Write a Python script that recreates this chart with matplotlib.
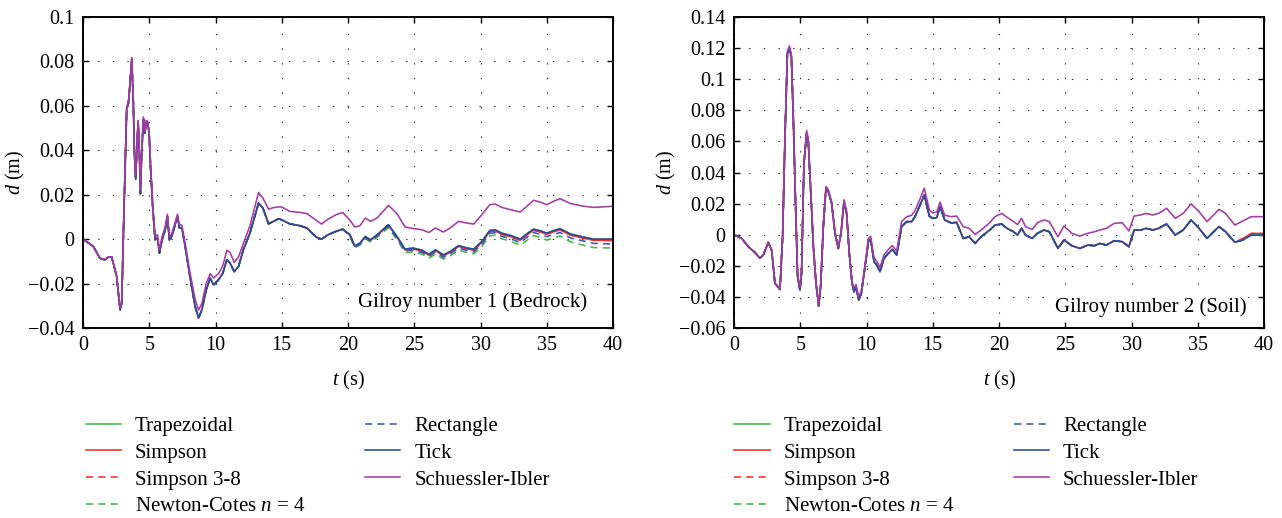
import matplotlib
matplotlib.use("Agg")
import matplotlib.pyplot as plt
from matplotlib.ticker import FuncFormatter, MultipleLocator

plt.rcParams["font.family"] = "Liberation Serif"
plt.rcParams["mathtext.fontset"] = "custom"
plt.rcParams["mathtext.rm"] = "Liberation Serif"
plt.rcParams["mathtext.it"] = "Liberation Serif:italic"

# Gilroy number 1 (Bedrock)
t1 = [0, 0.78, 1.28, 1.66, 1.91, 2.17, 2.54, 2.8, 2.92, 3.1, 3.3, 3.43, 3.55, 3.68, 3.8, 3.88,
      3.98, 4.05, 4.16, 4.26, 4.33, 4.43, 4.56, 4.68, 4.76, 4.89, 4.99, 5.11, 5.26, 5.44, 5.62,
      5.77, 5.94, 6.2, 6.37, 6.52, 6.7, 6.95, 7.13, 7.28, 7.46, 7.71, 8.09, 8.46, 8.72, 8.97,
      9.3, 9.6, 9.85, 10.23, 10.55, 10.86, 11.1, 11.41, 11.74, 12.1, 12.6, 13.25, 13.58, 14.0,
      14.38, 14.76, 15.0, 15.6, 16.4, 16.9, 17.6, 18.0, 18.5, 19.1, 19.6,
      20.15, 20.5, 20.9, 21.3, 21.7, 22.2, 23.05, 23.7, 24.3, 24.9, 25.6, 26.1, 26.6, 27.2,
      27.7, 28.35, 29.0, 29.5, 30.1, 30.7, 31.1, 31.6, 32.25, 33.0, 33.5, 34.0, 34.5, 35.0,
      35.5, 36.0, 36.8, 37.8, 38.55, 40.0]
d1_early = [0, -0.0033, -0.0086, -0.0093, -0.0081, -0.0081, -0.0168, -0.0318, -0.029, 0.0147,
            0.059, 0.0612, 0.070, 0.081, 0.061, 0.0387, 0.027, 0.0387, 0.053, 0.0387, 0.0204,
            0.0387, 0.054, 0.0477, 0.052, 0.052, 0.0477, 0.031, 0.0147, -0.0003, 0.0005, -0.0063,
            -0.001, 0.0042, 0.0102, -0.0003, 0.0012, 0.0065, 0.0102, 0.005, 0.005, -0.0033,
            -0.0176, -0.0303, -0.0355, -0.0318, -0.0228, -0.0176, -0.0206, -0.0183, -0.0153,
            -0.0093, -0.0108, -0.0146, -0.0123, -0.0048, 0.0027, 0.0162, 0.014, 0.0069, 0.008,
            0.0092, 0.0087, 0.0069, 0.006, 0.005, 0.0009, 0.0, 0.002, 0.0035, 0.0045]
d1_tick = d1_early + [0.002, -0.003, -0.0018, 0.0012, -0.0003, 0.002, 0.0065, 0.0012, -0.0045,
                      -0.004, -0.005, -0.0068, -0.0048, -0.0071, -0.0056, -0.0029, -0.004,
                      -0.0045, -0.001, 0.0039, 0.0042, 0.0027, 0.0017, 0.0, 0.0024, 0.0045,
                      0.0038, 0.0027, 0.0038, 0.0047, 0.0023, 0.0009, 0.0, 0.0]
d1_trap = d1_tick
d1_simpson = d1_early + [0.0018, -0.0032, -0.002, 0.001, -0.0006, 0.0017, 0.0062, 0.0009,
                         -0.0049, -0.0044, -0.0054, -0.0072, -0.0052, -0.0075, -0.006, -0.0033,
                         -0.0044, -0.005, -0.0015, 0.0034, 0.0037, 0.0022, 0.0012, -0.0005,
                         0.0019, 0.004, 0.0033, 0.0022, 0.0033, 0.0042, 0.0018, 0.0004,
                         -0.0005, -0.0006]
d1_simpson38 = d1_simpson
d1_newton = d1_early + [0.0012, -0.0039, -0.0027, 0.0002, -0.0014, 0.0008, 0.0052, -0.0002,
                        -0.0061, -0.0057, -0.0068, -0.0086, -0.0067, -0.009, -0.0076, -0.0049,
                        -0.0061, -0.0066, -0.0033, 0.0015, 0.0018, 0.0002, -0.0009, -0.0028,
                        -0.0005, 0.0016, 0.0008, -0.0004, 0.0006, 0.0014, -0.0012, -0.0028,
                        -0.0038, -0.004]
d1_rect = d1_early + [0.0016, -0.0035, -0.0023, 0.0007, -0.0009, 0.0014, 0.0058, 0.0005,
                      -0.0053, -0.0049, -0.006, -0.0078, -0.0058, -0.0082, -0.0067, -0.004,
                      -0.0052, -0.0057, -0.0023, 0.0026, 0.0029, 0.0013, 0.0002, -0.0015,
                      0.0008, 0.003, 0.0022, 0.0011, 0.0021, 0.003, 0.0005, -0.0009, -0.0019,
                      -0.0022]
d1_si = [0, -0.0033, -0.0086, -0.0093, -0.0081, -0.0081, -0.0165, -0.031, -0.0285, 0.015,
         0.0595, 0.062, 0.071, 0.0818, 0.062, 0.039, 0.029, 0.039, 0.0535, 0.039, 0.022,
         0.039, 0.055, 0.0485, 0.0535, 0.053, 0.0485, 0.032, 0.016, 0.001, 0.002, -0.005,
         0.0005, 0.0055, 0.0112, 0.001, 0.0025, 0.0075, 0.0112, 0.0065, 0.0063, -0.0018,
         -0.0155, -0.027, -0.0319, -0.029, -0.020, -0.0155, -0.0175, -0.0155, -0.012,
         -0.005, -0.006, -0.0105, -0.008, -0.002, 0.006, 0.021, 0.0185, 0.0135, 0.0142,
         0.0145, 0.0145, 0.0125, 0.012, 0.0115, 0.0085, 0.0068, 0.009, 0.011, 0.012,
         0.0085, 0.0055, 0.006, 0.0095, 0.008, 0.0095, 0.0152, 0.0115, 0.0055, 0.0048,
         0.0042, 0.003, 0.005, 0.0032, 0.005, 0.008, 0.0072, 0.0068, 0.011, 0.0155, 0.0158,
         0.0143, 0.0133, 0.0122, 0.0148, 0.0175, 0.0167, 0.0155, 0.017, 0.0182, 0.016,
         0.0148, 0.0143, 0.0148]

# Gilroy number 2 (Soil)
t2 = [0, 0.58, 1.08, 1.58, 1.96, 2.21, 2.59, 2.84, 3.09, 3.3, 3.47, 3.67, 3.85, 4.03, 4.18,
      4.33, 4.48, 4.65, 4.8, 4.98, 5.1, 5.28, 5.48, 5.6, 5.81, 5.99, 6.19, 6.39, 6.54, 6.74,
      6.94, 7.12, 7.37, 7.62, 7.87, 8.08, 8.3, 8.5, 8.7, 8.91, 9.06, 9.21, 9.41, 9.61, 9.89,
      10.14, 10.31, 10.57, 10.77, 11.02, 11.32, 11.65, 11.95, 12.28, 12.65, 13.03, 13.41,
      13.66, 14.04, 14.36, 14.74, 15.0, 15.3, 15.55, 15.9, 16.4, 16.8, 17.3, 17.75, 18.2,
      18.65, 19.3, 19.7, 20.2, 20.6, 21.1, 21.4, 21.7, 22.0, 22.5, 22.9, 23.4, 23.8, 24.45,
      24.9, 25.5, 26.1, 26.7, 27.2, 27.6, 28.1, 28.7, 29.3, 29.8, 30.2, 30.7, 31.1, 31.6,
      32.05, 32.65, 33.3, 33.9, 34.5, 35.1, 35.7, 36.2, 36.6, 37.1, 37.8, 38.4, 39.05, 40.0]
d2_tick = [0, -0.0024, -0.0077, -0.0114, -0.0152, -0.013, -0.0051, -0.0099, -0.0313, -0.0334,
           -0.0352, -0.0013, 0.063, 0.1166, 0.1198, 0.1145, 0.0737, 0.018, -0.027, -0.0356,
           -0.0249, 0.0459, 0.0652, 0.0609, 0.0244, -0.0077, -0.0313, -0.0459, -0.0334, 0.0051,
           0.0298, 0.0277, 0.0202, 0.0009, -0.0088, 0.0009, 0.0212, 0.0137, -0.012, -0.0313,
           -0.0367, -0.0334, -0.042, -0.0377, -0.0206, -0.0045, -0.003, -0.0174, -0.0195,
           -0.0238, -0.0152, -0.012, -0.0094, -0.013, 0.0051, 0.0084, 0.0084, 0.0116, 0.019,
           0.0255, 0.012, 0.0105, 0.011, 0.018, 0.0095, 0.0075, 0.008, -0.0024, -0.0013,
           -0.0056, -0.0013, 0.003, 0.0062, 0.0069, 0.0041, 0.0019, -0.0002, 0.0041, -0.0002,
           -0.0024, 0.0009, 0.003, 0.0019, -0.0088, -0.0034, -0.0071, -0.0088, -0.0067,
           -0.0071, -0.0056, -0.0067, -0.0039, -0.0045, -0.0077, 0.003, 0.003, 0.0041, 0.003,
           0.0041, 0.0069, -0.0002, 0.003, 0.0095, 0.0041, -0.0024, 0.0019, 0.0052, 0.0019,
           -0.0049, -0.0034, -0.0002, -0.0002]
d2_trap = d2_tick
d2_simpson = d2_tick[:-3] + [-0.0025, 0.0008, 0.0008]
d2_simpson38 = d2_simpson
d2_newton = d2_tick
d2_rect = d2_tick
d2_si = [0, -0.0024, -0.0077, -0.0114, -0.015, -0.0128, -0.0048, -0.0097, -0.031, -0.033,
         -0.0348, 0.0, 0.064, 0.118, 0.1215, 0.116, 0.076, 0.021, -0.025, -0.034, -0.023,
         0.047, 0.067, 0.062, 0.026, -0.006, -0.030, -0.0455, -0.032, 0.006, 0.031, 0.029,
         0.021, 0.002, -0.0078, 0.002, 0.0225, 0.015, -0.011, -0.030, -0.0345, -0.032, -0.040,
         -0.036, -0.019, -0.0025, -0.001, -0.015, -0.017, -0.021, -0.013, -0.0095, -0.007,
         -0.0105, 0.0085, 0.0115, 0.0125, 0.0155, 0.023, 0.0299, 0.016, 0.014, 0.0145, 0.021,
         0.0125, 0.0116, 0.012, 0.0052, 0.0041, 0.0002, 0.003, 0.0077, 0.0116, 0.0137, 0.0112,
         0.0084, 0.0065, 0.0105, 0.0052, 0.0034, 0.0077, 0.0095, 0.0084, -0.0013, 0.0056,
         0.0009, -0.0009, 0.0009, 0.0019, 0.003, 0.0041, 0.0073, 0.0077, 0.0024, 0.012, 0.0127,
         0.0137, 0.0127, 0.0137, 0.017, 0.0105, 0.0137, 0.0198, 0.0148, 0.0084, 0.0127, 0.0163,
         0.0137, 0.0062, 0.0088, 0.0116, 0.0116]

labels = ["Trapezoidal", "Simpson", "Simpson 3-8", "Newton-Cotes $n$ = 4",
          "Rectangle", "Tick", "Schuessler-Ibler"]
colors = ["#45b449", "#f42a2a", "#f42a2a", "#45b449", "#3d5aa8", "#2b4a9e", "#a43aa4"]
dash = (0, (4.5, 3.2))
styles = ["-", "-", dash, dash, dash, "-", "-"]

panels = [
    (t1, [d1_trap, d1_simpson, d1_simpson38, d1_newton, d1_rect, d1_tick, d1_si],
     (-0.04, 0.1), "Gilroy number 1 (Bedrock)", (0.951, 0.084), -0.011),
    (t2, [d2_trap, d2_simpson, d2_simpson38, d2_newton, d2_rect, d2_tick, d2_si],
     (-0.06, 0.14), "Gilroy number 2 (Soil)", (0.968, 0.067), -0.015),
]
lefts = [83 / 1282, 734 / 1282]

fig = plt.figure(figsize=(12.82, 5.18), dpi=100)
fs = 14.5

for k, (t, series, ylim, note, note_xy, leg_x) in enumerate(panels):
    ax = fig.add_axes([lefts[k], 190 / 518, 530 / 1282, 311 / 518])
    for vals, lab, c, ls in zip(series, labels, colors, styles):
        ax.plot(t, vals, color=c, linestyle=ls, linewidth=1.15, label=lab)
    ax.set_xlim(0, 40)
    ax.set_ylim(*ylim)
    ax.xaxis.set_major_locator(MultipleLocator(5))
    ax.yaxis.set_major_locator(MultipleLocator(0.02))
    ax.yaxis.set_major_formatter(FuncFormatter(lambda v, p: ("%g" % round(v, 4)).replace("-", "\u2212")))
    ax.grid(True, color="#222222", linestyle=(0, (1.2, 12)), linewidth=0.8)
    ax.tick_params(direction="in", top=True, right=True, length=4, width=1,
                   labelsize=fs, pad=6)
    for s in ax.spines.values():
        s.set_linewidth(1.4)
    ax.set_xlabel("$t$ (s)", fontsize=fs, labelpad=10)
    ax.set_ylabel("$d$ (m)", fontsize=fs, labelpad=1)
    ax.text(note_xy[0], note_xy[1], note, transform=ax.transAxes, ha="right", va="center",
            fontsize=15, bbox=dict(facecolor="white", edgecolor="none", pad=1))
    ax.legend(loc="upper left", bbox_to_anchor=(leg_x, -0.257), ncol=2, frameon=False,
              fontsize=15, handlelength=1.7, handletextpad=0.67, columnspacing=2.85,
              labelspacing=0.35, borderaxespad=0)

fig.savefig("out.png", dpi=100)
